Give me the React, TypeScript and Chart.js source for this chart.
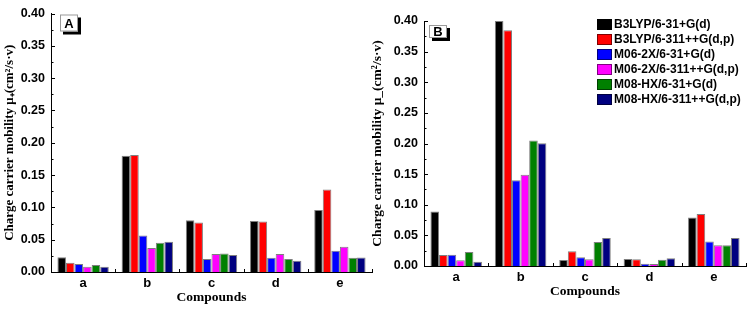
import React, { useEffect, useRef } from 'react';
import { Chart, registerables } from 'chart.js';

Chart.register(...registerables);

// ---------- data ----------
const categories = ['a', 'b', 'c', 'd', 'e'];
const seriesLabels = [
  'B3LYP/6-31+G(d)',
  'B3LYP/6-311++G(d,p)',
  'M06-2X/6-31+G(d)',
  'M06-2X/6-311++G(d,p)',
  'M08-HX/6-31+G(d)',
  'M08-HX/6-311++G(d,p)',
];
const seriesColors = ['#000000', '#ff0000', '#0000ff', '#ff00ff', '#008000', '#000080'];

// Panel A : hole mobility (mu+)
const holeB3lypSmall = [0.023, 0.18, 0.08, 0.079, 0.096];
const holeB3lypLarge = [0.0145, 0.181, 0.0767, 0.078, 0.1277];
const holeM06Small = [0.0125, 0.0566, 0.02, 0.022, 0.033];
const holeM06Large = [0.0082, 0.037, 0.0278, 0.0278, 0.039];
const holeM08Small = [0.0108, 0.0453, 0.0288, 0.02, 0.022];
const holeM08Large = [0.008, 0.0468, 0.0263, 0.0175, 0.0226];

// Panel B : electron mobility (mu-)
const elecB3lypSmall = [0.0888, 0.4, 0.0098, 0.0114, 0.079];
const elecB3lypLarge = [0.018, 0.385, 0.024, 0.0109, 0.085];
const elecM06Small = [0.0185, 0.14, 0.0142, 0.0038, 0.0398];
const elecM06Large = [0.0093, 0.149, 0.0109, 0.0033, 0.0338];
const elecM08Small = [0.0229, 0.205, 0.039, 0.0104, 0.0338];
const elecM08Large = [0.0071, 0.2005, 0.0458, 0.0125, 0.0458];

const yMin = 0;
const yMax = 0.4;
const yStep = 0.05;

const xTitle = 'Compounds';
const yTitleA = 'Charge carrier mobility \u03bc\u208a(cm\u00b2/s\u00b7v)';
const yTitleB = 'Charge carrier mobility \u03bc_(cm\u00b2/s\u00b7v)';

// ---------- styles ----------
const SANS = '"Liberation Sans", Arial, sans-serif';
const SERIF = '"Liberation Serif", "Times New Roman", serif';

type PanelCfg = {
  letter: string;
  values: number[][];
  yTitle: string;
  canvasLeft: number;
  canvasWidth: number;
  yAxisWidth: number;
  padTop: number;
  padRight: number;
  padBottom: number;
  yTitlePad: number;
  yTitleSize: number;
  showLegend: boolean;
  box: { dx: number; dy: number; w: number; h: number };
};

const panels: PanelCfg[] = [
  {
    letter: 'A',
    values: [holeB3lypSmall, holeB3lypLarge, holeM06Small, holeM06Large, holeM08Small, holeM08Large],
    yTitle: yTitleA,
    canvasLeft: 0,
    canvasWidth: 376,
    yAxisWidth: 51,
    padTop: 13,
    padRight: 4,
    padBottom: 0,
    yTitlePad: 2,
    yTitleSize: 13,
    showLegend: false,
    box: { dx: 9, dy: 1, w: 18, h: 17 },
  },
  {
    letter: 'B',
    values: [elecB3lypSmall, elecB3lypLarge, elecM06Small, elecM06Large, elecM08Small, elecM08Large],
    yTitle: yTitleB,
    canvasLeft: 366,
    canvasWidth: 390,
    yAxisWidth: 58,
    padTop: 21,
    padRight: 10,
    padBottom: 6,
    yTitlePad: 3,
    yTitleSize: 13.5,
    showLegend: true,
    box: { dx: 5, dy: 4, w: 18, h: 13 },
  },
];

const axisTicksPlugin = {
  id: 'axisTicks',
  afterDraw(chart: any) {
    const { ctx, chartArea, scales } = chart;
    const y = scales.y;
    const x = scales.x;
    ctx.save();
    ctx.strokeStyle = '#000';
    ctx.lineWidth = 1;
    ctx.beginPath();
    const nMinor = Math.round((yMax - yMin) / (yStep / 2));
    for (let i = 0; i <= nMinor; i++) {
      const v = yMin + (i * yStep) / 2;
      const py = Math.round(y.getPixelForValue(v)) + 0.5;
      const len = i % 2 === 0 ? 4 : 2.5;
      ctx.moveTo(chartArea.left, py);
      ctx.lineTo(chartArea.left + len, py);
    }
    const n = categories.length;
    for (let i = 1; i <= n; i++) {
      const px =
        i < n
          ? (x.getPixelForValue(i - 1) + x.getPixelForValue(i)) / 2
          : chartArea.right - 0.5;
      const rx = Math.round(px) + 0.5;
      ctx.moveTo(rx, chartArea.bottom);
      ctx.lineTo(rx, chartArea.bottom - 3);
    }
    ctx.stroke();
    ctx.restore();
  },
};

function makePanelLabelPlugin(cfg: PanelCfg) {
  return {
    id: 'panelLabel' + cfg.letter,
    afterDraw(chart: any) {
      const { ctx, chartArea } = chart;
      const bx = chartArea.left + cfg.box.dx;
      const by = chartArea.top + cfg.box.dy;
      const { w, h } = cfg.box;
      ctx.save();
      ctx.fillStyle = '#000';
      ctx.fillRect(bx + 3, by + 3, w, h);
      ctx.fillStyle = '#fff';
      ctx.fillRect(bx, by, w, h);
      ctx.strokeStyle = '#9a9a9a';
      ctx.lineWidth = 1;
      ctx.strokeRect(bx + 0.5, by + 0.5, w - 1, h - 1);
      ctx.fillStyle = '#000';
      ctx.font = `bold 13px ${SANS}`;
      ctx.textAlign = 'center';
      ctx.textBaseline = 'middle';
      ctx.fillText(cfg.letter, bx + w / 2, by + h / 2 + 1);
      ctx.restore();
    },
  };
}

const legendPlugin = {
  id: 'customLegend',
  afterDraw(chart: any) {
    const { ctx, chartArea } = chart;
    const x0 = chartArea.right - 149;
    const y0 = chartArea.top - 2;
    const rowH = 15;
    ctx.save();
    ctx.font = `bold 12px ${SANS}`;
    ctx.textBaseline = 'middle';
    ctx.textAlign = 'left';
    chart.data.datasets.forEach((ds: any, i: number) => {
      const cy = y0 + i * rowH + 5.5;
      ctx.fillStyle = ds.backgroundColor;
      ctx.fillRect(x0, cy - 5.5, 15, 11);
      ctx.strokeStyle = 'rgba(0,0,0,0.5)';
      ctx.lineWidth = 1;
      ctx.strokeRect(x0 + 0.5, cy - 5.5 + 0.5, 14, 10);
      ctx.fillStyle = '#000';
      ctx.fillText(ds.label, x0 + 17, cy + 0.5);
    });
    ctx.restore();
  },
};

function Panel({ cfg }: { cfg: PanelCfg }) {
  const ref = useRef<HTMLCanvasElement | null>(null);
  useEffect(() => {
    if (!ref.current) return;
    const plugins: any[] = [axisTicksPlugin, makePanelLabelPlugin(cfg)];
    if (cfg.showLegend) plugins.push(legendPlugin);
    const chart = new Chart(ref.current, {
      type: 'bar',
      data: {
        labels: categories,
        datasets: cfg.values.map((vals, i) => ({
          label: seriesLabels[i],
          data: vals,
          backgroundColor: seriesColors[i],
          borderColor: 'rgba(0,0,0,0.5)',
          borderWidth: 1,
          categoryPercentage: 0.8,
          barPercentage: 1,
        })),
      },
      options: {
        responsive: false,
        maintainAspectRatio: false,
        animation: false,
        devicePixelRatio: 1,
        layout: {
          padding: { left: 0, top: cfg.padTop, right: cfg.padRight, bottom: cfg.padBottom },
        },
        plugins: {
          legend: { display: false },
          tooltip: { enabled: false },
        },
        scales: {
          x: {
            grid: { display: false, drawTicks: false },
            border: { display: true, color: '#000', width: 1 },
            ticks: {
              color: '#000',
              padding: 4,
              font: { family: SANS, weight: 'bold', size: 13 },
            },
            title: {
              display: true,
              text: xTitle,
              color: '#000',
              font: { family: SERIF, weight: 'bold', size: 13.5 },
              padding: { top: 0, bottom: 3 },
            },
            afterFit: (s: any) => {
              s.height = 37;
            },
          },
          y: {
            min: yMin,
            max: yMax,
            grid: { display: false, drawTicks: false },
            border: { display: true, color: '#000', width: 1 },
            ticks: {
              stepSize: yStep,
              color: '#000',
              padding: 6,
              font: { family: SANS, weight: 'bold', size: 12.5 },
              callback: (v: any) => Number(v).toFixed(2),
            },
            title: {
              display: true,
              text: cfg.yTitle,
              color: '#000',
              font: { family: SERIF, weight: 'bold', size: cfg.yTitleSize },
              padding: { top: cfg.yTitlePad, bottom: 0 },
            },
            afterFit: (s: any) => {
              s.width = cfg.yAxisWidth;
            },
          },
        },
      } as any,
      plugins,
    });
    return () => chart.destroy();
  }, [cfg]);
  return (
    <canvas
      ref={ref}
      width={cfg.canvasWidth}
      height={309}
      style={{
        position: 'absolute',
        left: cfg.canvasLeft,
        top: 0,
        width: cfg.canvasWidth,
        height: 309,
        display: 'block',
      }}
    />
  );
}

export default function App() {
  return (
    <div
      style={{
        position: 'fixed',
        left: 0,
        top: 0,
        width: 756,
        height: 309,
        background: '#fff',
        overflow: 'hidden',
      }}
    >
      {panels.map((p) => (
        <Panel key={p.letter} cfg={p} />
      ))}
    </div>
  );
}
